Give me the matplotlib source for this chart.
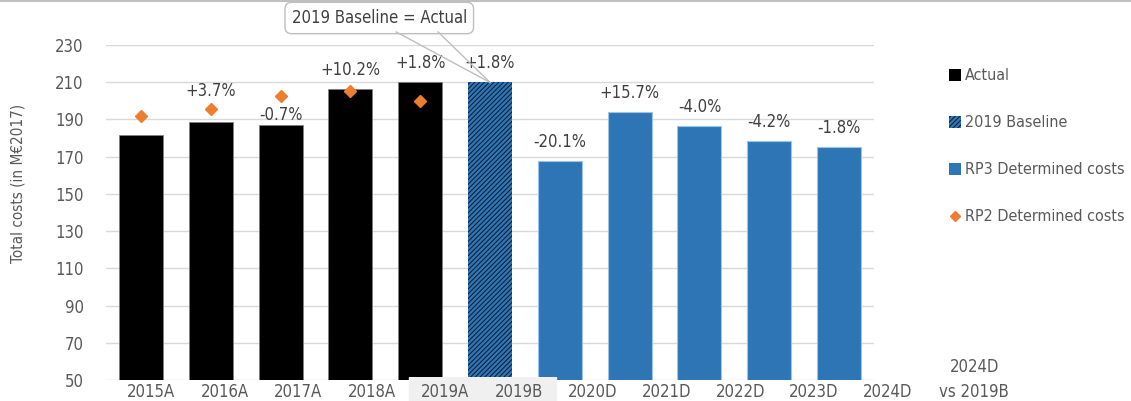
import matplotlib
matplotlib.use("Agg")
import matplotlib.pyplot as plt
from matplotlib.patches import Patch
from matplotlib.lines import Line2D
import numpy as np

plt.rcParams['font.family'] = ['DejaVu Sans']
plt.rcParams['font.stretch'] = 'condensed'
plt.rcParams['hatch.linewidth'] = 0.7

# cost series (M EUR 2017)
years = ['2015A', '2016A', '2017A', '2018A', '2019A', '2019B',
         '2020D', '2021D', '2022D', '2023D', '2024D']
actual = [181.8, 188.4, 187.1, 206.2, 209.9]
baseline = [209.9]
rp3 = [167.7, 194.0, 186.3, 178.5, 175.3]
rp2 = [191.7, 195.8, 202.7, 205.1, 199.9]
pct_labels = ['', '+3.7%', '-0.7%', '+10.2%', '+1.8%', '+1.8%',
              '-20.1%', '+15.7%', '-4.0%', '-4.2%', '-1.8%']
row_labels = years + ['2024D\nvs 2019B']

BLACK = '#000000'
BLUE = '#2E75B6'
ORANGE = '#ED7D31'
TXT = '#404040'
GREY = '#595959'
FS = 12

fig = plt.figure(figsize=(11.31, 4.01), dpi=100)
ax = fig.add_axes([106/1131, 1 - 380/401, 768/1131, 335/401])

x = np.arange(len(years))
w = 0.63
ax.bar(x[:5], actual, w, color=BLACK, edgecolor='#7f7f7f', linewidth=0.5, zorder=3)
ax.bar(x[5:6], baseline, w, color=BLUE, edgecolor='#0b1a2b', hatch='///////',
       linewidth=0, zorder=3)
ax.bar(x[6:], rp3, w, color=BLUE, edgecolor='#9DC3E6', linewidth=0.8, zorder=3)
ax.plot(x[:5], rp2, linestyle='none', marker='D', markersize=6.5,
        color=ORANGE, zorder=4)

# change labels above the bars
tops = actual + baseline + rp3
offsets = [19, 31, 10, 19, 19, 19, 19, 19, 19, 19, 19]
for xi, top, lab, off in zip(x, tops, pct_labels, offsets):
    if lab:
        ax.annotate(lab, (xi, top), xytext=(0, off * 0.72), textcoords='offset points',
                    ha='center', va='center', fontsize=FS, color=TXT, zorder=5)

ax.set_xlim(-0.5, len(years) - 0.5)
ax.set_ylim(50, 230)
ax.set_yticks(np.arange(50, 231, 20))
ax.set_xticks([])
ax.tick_params(axis='y', length=0, pad=16, labelsize=FS, labelcolor=GREY)
ax.grid(axis='y', color='#d9d9d9', linewidth=1, zorder=0)
for s in ax.spines.values():
    s.set_visible(False)

fig.text(18/1131, 1 - 183/401, 'Total costs (in M€2017)', rotation=90,
         ha='center', va='center', fontsize=11, color=GREY)

# callout pointing at the 2019 baseline bar
tip = (x[5], baseline[0])
ax.text(3.414, 244.5, '2019 Baseline = Actual', ha='center', va='center',
        fontsize=FS, color=TXT, clip_on=False, zorder=6,
        bbox=dict(boxstyle='round,pad=0.4,rounding_size=0.4', fc='white',
                  ec='#bfbfbf', lw=1))
for sx in (3.657, 4.257):
    ax.plot([sx, tip[0]], [237.0, tip[1]], color='#bfbfbf', lw=1,
            clip_on=False, zorder=6)

# category row below the plot
rax = fig.add_axes([114/1131, 0, 884/1131, 24/401])
rax.set_xlim(-0.5, len(row_labels) - 0.5)
rax.set_ylim(0, 1)
rax.axis('off')
rax.axvspan(3.5, 5.5, color='#f0f0f0', zorder=0)
for i, lab in enumerate(row_labels):
    if '\n' in lab:
        top, bot = lab.split('\n')
        fig.text((114 + (i + 0.5) * 884 / 12) / 1131 + 13/1131, 1 - 367/401, top,
                 ha='center', va='center', fontsize=FS, color=GREY)
        rax.text(i + 13/73.7, 9/24, bot, ha='center', va='center',
                 fontsize=FS, color=GREY)
    else:
        rax.text(i, 9/24, lab, ha='center', va='center', fontsize=FS, color=GREY)

handles = [Patch(facecolor=BLACK),
           Patch(facecolor=BLUE, edgecolor='#0b1a2b', hatch='///////', linewidth=0),
           Patch(facecolor=BLUE),
           Line2D([], [], linestyle='none', marker='D', markersize=5, color=ORANGE)]
names = ['Actual', '2019 Baseline', 'RP3 Determined costs', 'RP2 Determined costs']
fig.legend(handles, names, loc='upper left', bbox_to_anchor=(943/1131, 1 - 62/401),
           frameon=False, fontsize=11.5, labelcolor=GREY, handlelength=0.75,
           handleheight=0.75, handletextpad=0.2, labelspacing=2.0, borderaxespad=0)

fig.add_artist(Line2D([0, 1], [1 - 1/401, 1 - 1/401], color='#bfbfbf', lw=1.5))

fig.savefig('out.png', dpi=100)
